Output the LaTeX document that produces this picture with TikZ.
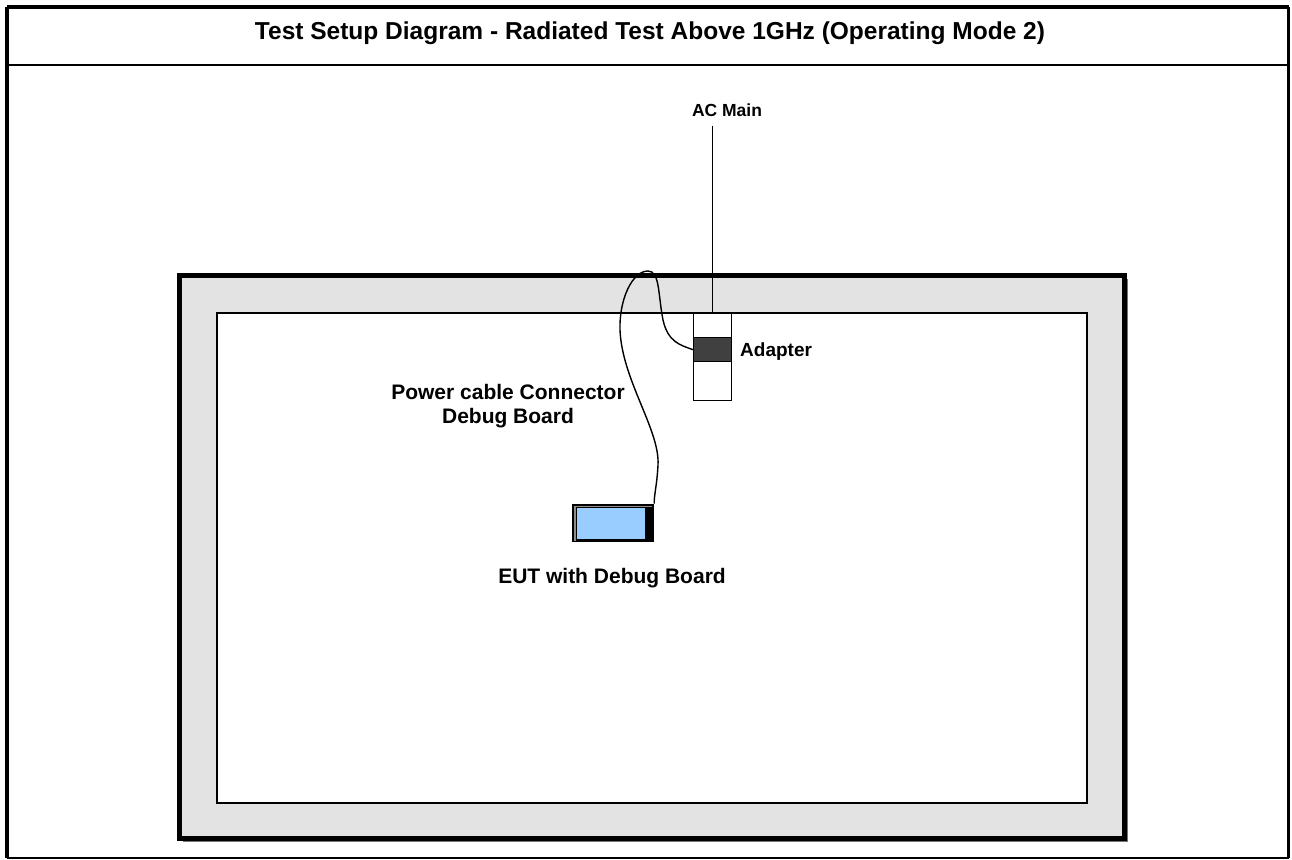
\documentclass[tikz,border=0pt]{standalone}
\usepackage{fontspec}
\setmainfont{Liberation Sans}
\begin{document}
\begin{tikzpicture}[x=1pt,y=-1pt,
  lbl/.style={font=\bfseries\fontsize{#1}{#1}\selectfont, inner sep=0pt},
  cable/.style={line width=1.4pt}]
\useasboundingbox (0,0) rectangle (1292,859);
% outer frame
\draw[line width=4pt] (7,7) -- (1289,7);
\draw[line width=4pt] (7,7) -- (7,858);
\draw[line width=3pt] (1288.5,7) -- (1288.5,858);
\draw[line width=2pt] (7,858) -- (1289,858);
\draw[line width=2.5pt] (7,65) -- (1289,65);
\node[lbl=24.5] (title) at (650,33) {Test Setup Diagram - Radiated Test Above 1GHz (Operating Mode 2)};
% table
\fill[black!55] (183,279) rectangle (1128,842);
\draw[line width=5pt, fill=black!11] (179,275) rectangle (1124,838);
\draw[line width=1.5pt, fill=white] (217,313) rectangle (1087,803);
% adapter
\node[draw, line width=1.3pt, fill=white, minimum width=38pt, minimum height=87pt, inner sep=0pt, anchor=north] (adapter) at (712.5,313) {};
\node[draw, line width=1.3pt, fill=black!75, minimum width=38pt, minimum height=24pt, inner sep=0pt, anchor=north] (adband) at (712.5,337) {};
\node[lbl=19, anchor=west] (adlbl) at (740,352) {Adapter};
% AC main
\node[lbl=17.5] (ac) at (727,110) {AC Main};
\coordinate (acbot) at (ac.south -| adapter.north);
\draw[line width=1.2pt] ([yshift=-9pt]acbot) -- (adapter.north);
% EUT
\node[fill=black, minimum width=82pt, minimum height=38.5pt, inner sep=0pt] (eut) at (613,523) {};
\fill[black!45] (573.5,505.5) rectangle (575.5,541);
\fill[black!45] (573.5,505.5) rectangle (652,507);
\fill[fill={rgb,255:red,153;green,204;blue,255}] (577,507.5) rectangle (645,539);
\node[lbl=21] (eutlbl) at (612,578) {EUT with Debug Board};
% cable
\coordinate (cabtop) at (648,271);
\coordinate (cabmid) at (620,330);
\draw[cable] (adband.west) .. controls (680,345) and (668,342) .. (663,320)
  .. controls (658,295) and (660,271) .. (cabtop)
  .. controls (632,271) and (619,300) .. (cabmid)
  .. controls (622,380) and (660,430) .. (658,465)
  .. controls (657,485) and (654,495) .. (eut.north east);
\node[lbl=21, align=center] (pclbl) at (508,406) {Power cable Connector\\[3pt]Debug Board};
\end{tikzpicture}
\end{document}
